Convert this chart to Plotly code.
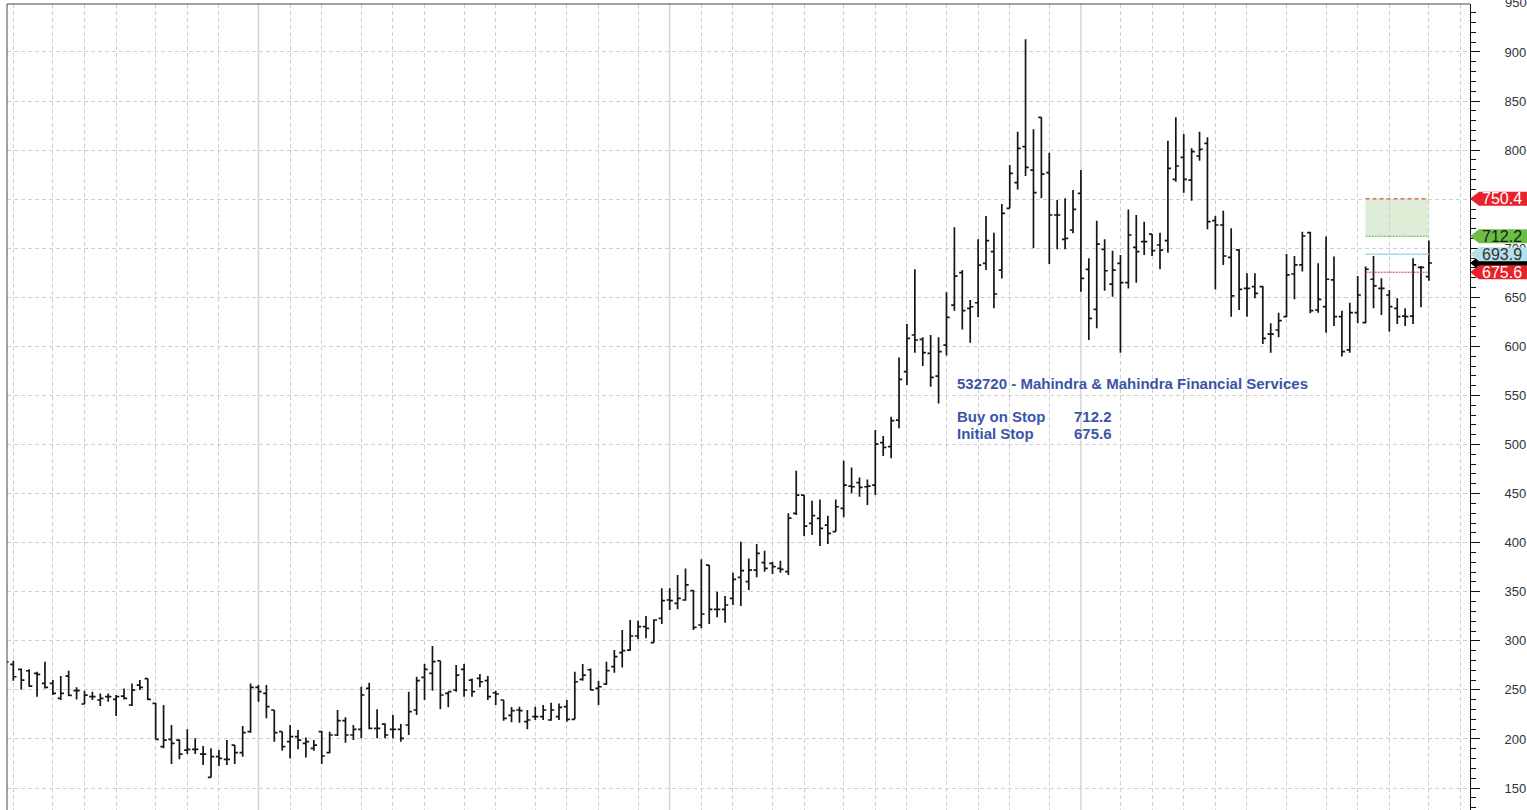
import plotly.graph_objects as go

# ---------------- data (weekly OHLC) ----------------
opens = [280, 276, 270.9, 269.5, 266.8, 256.6, 256.6, 241.4, 264.1, 249.2,
         235.6, 243.1, 239.7, 243.1, 240.3, 243.7, 234.6, 254.9, 261.4, 236.3,
         192.1, 199.6, 198.9, 188.7, 189.4, 184.6, 160.8, 181.9, 179.2, 193.8,
         186.0, 207.4, 252.6, 246.5, 229.5, 207.4, 197.2, 202.3, 195.5, 190.4,
         207.4, 186.0, 204.0, 218.6, 204.0, 209.8, 251.6, 210.8, 215.2, 209.8,
         209.8, 214.2, 229.5, 262.8, 266.8, 279.7, 246.5, 249.9, 270.9, 260.0,
         261.7, 259.4, 247.1, 239.7, 224.0, 229.5, 217.6, 222.7, 222.7, 219.3,
         222.7, 232.9, 220.0, 260.7, 270.5, 251.6, 256.0, 273.6, 287.9, 290.6,
         304.9, 314.4, 298.1, 322.9, 341.6, 338.2, 341.6, 351.1, 316.1, 377.2,
         332.1, 332.1, 343.3, 364.7, 360.3, 372.1, 379.6, 378.9, 373.8, 370.4,
         429.8, 448.5, 419.6, 424.7, 417.9, 411.2, 434.9, 457.7, 461.1, 457.0,
         458.7, 501.9, 497.8, 524.9, 574.2, 611.6, 607.2, 592.9, 569.8, 601.4,
         642.1, 675.1, 638.8, 644.5, 684.6, 696.5, 677.8, 740.7, 766.8, 803.5,
         779.7, 833.4, 777.0, 733.9, 709.1, 718.6, 755.9, 678.5, 637.7, 698.9,
         663.5, 684.6, 664.9, 700.9, 706.7, 714.5, 703.3, 707.7, 770.2, 792.6,
         769.5, 794.0, 806.9, 728.1, 723.7, 690.8, 698.3, 659.2, 660.9, 660.9,
         612.6, 616.7, 630.3, 673.8, 683.0, 715.9, 637.1, 640.5, 667.7, 630.3,
         596.4, 634.4, 624.2, 668.4, 659.2, 652.4, 638.8, 630.9, 630.9, 680.6,
         671.1]
highs = [282, 279.7, 271.9, 270.9, 268.5, 278.7, 260.0, 264.1, 269.5, 252.6,
         249.2, 248.1, 246.4, 246.4, 244.7, 251.5, 256.6, 260.0, 261.7, 236.9,
         234.6, 214.2, 199.6, 209.8, 200.6, 192.8, 190.4, 188.7, 198.9, 193.8,
         213.2, 256.6, 254.9, 254.9, 229.5, 207.4, 214.2, 209.1, 201.6, 198.9,
         208.4, 207.4, 229.5, 222.0, 214.2, 253.3, 257.3, 230.2, 215.9, 224.4,
         215.2, 248.2, 263.4, 276.4, 294.7, 279.7, 248.2, 275.3, 276.4, 261.7,
         266.2, 264.1, 249.2, 239.7, 232.5, 232.9, 229.5, 232.9, 234.6, 236.9,
         236.2, 239.6, 268.5, 276.3, 271.9, 259.4, 278.7, 290.6, 311.0, 321.2,
         320.5, 325.3, 321.9, 353.5, 353.5, 367.1, 373.8, 351.8, 383.0, 377.2,
         350.1, 345.6, 369.4, 401.0, 384.0, 398.6, 391.8, 380.6, 381.7, 429.9,
         473.3, 448.5, 442.7, 444.1, 427.5, 444.1, 483.5, 476.7, 466.5, 464.5,
         514.8, 508.7, 528.3, 588.8, 622.8, 678.5, 609.2, 611.6, 609.2, 655.2,
         721.3, 677.8, 647.2, 709.1, 732.9, 715.9, 745.1, 784.8, 818.8, 912.9,
         821.2, 833.4, 797.4, 749.2, 750.9, 759.3, 779.7, 689.7, 728.1, 709.1,
         697.5, 693.1, 739.6, 733.9, 727.1, 714.5, 715.9, 809.6, 833.4, 816.4,
         801.8, 818.8, 813.0, 732.9, 738.3, 720.3, 698.9, 674.5, 674.5, 661.6,
         623.5, 634.4, 694.2, 692.1, 716.9, 716.9, 684.7, 711.9, 691.5, 636.4,
         644.6, 671.8, 681.3, 692.1, 669.4, 657.5, 649.0, 638.8, 689.8, 682.0,
         707.8]
lows = [270, 259.4, 250.5, 253.2, 243.1, 251.5, 244.7, 239.7, 243.7, 240.3,
        235.6, 239.7, 233.5, 238.0, 223.3, 240.3, 233.5, 249.8, 239.7, 199.6,
        190.4, 174.4, 179.2, 184.6, 184.6, 173.4, 160.8, 172.4, 173.4, 174.4,
        181.9, 206.4, 238.0, 221.0, 197.2, 188.0, 180.2, 189.4, 181.2, 188.0,
        174.4, 185.3, 203.0, 196.2, 198.9, 200.6, 209.8, 200.6, 200.6, 200.6,
        197.2, 204.0, 224.4, 239.7, 249.2, 230.2, 232.2, 248.2, 243.1, 243.1,
        252.6, 239.7, 234.6, 218.6, 217.0, 216.5, 209.8, 219.3, 219.3, 218.6,
        219.3, 217.6, 220.0, 259.3, 249.5, 234.6, 255.0, 267.5, 272.9, 289.9,
        301.5, 302.5, 298.1, 317.1, 331.4, 332.1, 340.9, 311.0, 312.7, 317.1,
        323.9, 318.5, 336.5, 335.4, 351.8, 364.7, 370.4, 368.1, 369.4, 367.0,
        428.1, 406.7, 407.8, 396.6, 398.6, 411.2, 425.8, 450.2, 446.8, 438.3,
        448.5, 488.3, 485.9, 516.5, 560.6, 593.6, 580.0, 558.9, 541.9, 590.7,
        636.4, 617.3, 603.8, 629.6, 677.8, 638.8, 669.3, 740.7, 760.0, 773.6,
        699.9, 750.9, 683.9, 698.9, 698.9, 715.2, 655.7, 606.5, 618.4, 656.8,
        650.6, 593.6, 659.1, 664.9, 693.1, 692.1, 678.5, 695.5, 767.8, 756.6,
        748.5, 789.2, 719.3, 658.1, 683.0, 630.3, 637.1, 630.3, 649.0, 602.5,
        593.6, 609.3, 629.6, 648.0, 676.2, 633.7, 634.4, 614.0, 620.8, 589.6,
        593.6, 623.5, 623.5, 638.8, 632.0, 615.0, 622.8, 620.8, 622.8, 639.8,
        667.0]
closes = [278.4, 263.4, 260.0, 253.9, 265.8, 252.6, 246.4, 246.4, 244.4, 249.2,
          244.7, 243.1, 241.4, 243.1, 243.1, 241.4, 249.8, 252.6, 240.3, 199.6,
          198.9, 195.5, 184.6, 189.4, 189.4, 184.6, 181.9, 180.2, 179.2, 186.0,
          206.4, 252.6, 248.2, 232.9, 206.4, 192.1, 202.3, 198.9, 197.2, 193.8,
          182.6, 204.0, 218.6, 204.0, 209.8, 244.8, 210.8, 210.8, 204.0, 209.8,
          200.6, 227.8, 259.4, 270.9, 278.7, 244.8, 248.2, 265.1, 249.9, 248.2,
          258.3, 243.1, 245.8, 221.0, 228.8, 228.8, 219.3, 222.7, 229.5, 229.5,
          232.2, 220.0, 258.3, 265.1, 250.0, 253.2, 269.6, 283.8, 289.9, 304.9,
          314.4, 312.7, 321.2, 340.9, 340.9, 343.3, 356.9, 313.7, 327.3, 332.1,
          332.1, 336.5, 362.6, 371.5, 372.1, 389.1, 373.8, 375.5, 372.8, 425.0,
          448.5, 416.9, 427.5, 414.6, 409.5, 436.6, 458.7, 457.0, 456.3, 457.7,
          500.5, 497.1, 524.3, 566.4, 608.2, 606.5, 593.6, 568.4, 594.6, 629.6,
          671.7, 636.4, 640.4, 682.9, 707.7, 653.4, 735.6, 776.3, 801.8, 782.4,
          756.6, 775.6, 733.9, 733.9, 710.1, 739.6, 669.3, 628.6, 704.3, 677.1,
          677.8, 664.9, 713.5, 696.5, 706.7, 697.5, 698.2, 781.4, 783.8, 770.2,
          798.4, 800.8, 727.1, 723.7, 692.1, 651.4, 658.2, 659.2, 654.1, 608.2,
          612.6, 626.2, 672.8, 683.0, 712.5, 636.4, 648.0, 668.4, 630.3, 594.6,
          634.4, 652.4, 678.6, 661.6, 659.2, 640.5, 630.3, 630.3, 683.0, 680.6,
          685.0]

# month / year separators (bar index)
month_marks = [1, 6, 10, 14, 19, 23, 27, 36, 40, 45, 49, 53, 58, 62, 67, 71, 75,
               80, 88, 92, 97, 101, 106, 110, 114, 119, 123, 127, 132, 141, 145,
               149, 153, 157, 162, 167, 171, 175, 180, 184]
year_marks = [32, 84, 136]

title_text = "532720 - Mahindra & Mahindra Financial Services"
buy_label, buy_stop = "Buy on Stop", 712.2
init_label, init_stop = "Initial Stop", 675.6
target_level = 750.4
mid_level = 693.9
zone_start, zone_end = 172, 180

# ---------------- layout geometry ----------------
W, H = 1527, 810
ML, MR, MT, MB = 7, 57, 4, 0
Y0, Y1 = 127.6, 948.9
X0, X1 = 0.2, 185.2
plot_h = H - MT - MB
plot_w = W - ML - MR

xs = list(range(len(opens)))

fig = go.Figure()
fig.add_trace(go.Ohlc(
    x=xs, open=opens, high=highs, low=lows, close=closes,
    increasing=dict(line=dict(color="#151515", width=1.7)),
    decreasing=dict(line=dict(color="#151515", width=1.7)),
    tickwidth=0.4, hoverinfo="skip", showlegend=False,
))

shapes = []
for m in year_marks:
    shapes.append(dict(type="line", xref="x", yref="paper", x0=m, x1=m, y0=0, y1=1,
                       line=dict(color="#d4d4d4", width=1.5), layer="below"))
shapes.append(dict(type="line", xref="paper", yref="paper", x0=0, x1=0, y0=0, y1=1,
                   line=dict(color="#444444", width=1), layer="above"))
shapes.append(dict(type="line", xref="paper", yref="paper", x0=0, x1=1, y0=1, y1=1,
                   line=dict(color="#444444", width=1), layer="above"))

# target zone
shapes.append(dict(type="rect", xref="x", yref="y", x0=zone_start, x1=zone_end,
                   y0=buy_stop, y1=target_level, fillcolor="rgba(200,225,185,0.6)",
                   line=dict(width=0), layer="below"))
shapes.append(dict(type="line", xref="x", yref="y", x0=zone_start, x1=zone_end,
                   y0=target_level, y1=target_level,
                   line=dict(color="#e03030", width=1, dash="4px,3px")))
shapes.append(dict(type="line", xref="x", yref="y", x0=zone_start, x1=zone_end,
                   y0=buy_stop, y1=buy_stop,
                   line=dict(color="#5fb040", width=1, dash="2px,1px")))
shapes.append(dict(type="line", xref="x", yref="y", x0=zone_start, x1=zone_end,
                   y0=mid_level, y1=mid_level,
                   line=dict(color="#a8d8e6", width=1.5)))
shapes.append(dict(type="line", xref="x", yref="y", x0=zone_start, x1=zone_end,
                   y0=init_stop, y1=init_stop,
                   line=dict(color="#e03030", width=1, dash="2px,1px")))

def py(v):
    return (v - Y0) / (Y1 - Y0)

def px_x(p):
    return (p - ML) / plot_w

tip_x = px_x(1470)
neck_x = px_x(1479)
end_x = px_x(1530)
half = 7.0 / plot_h

annotations = []
tags = [
    (closes[-1], "#000000", None, "#ffffff"),
    (target_level, "#e8212b", "750.4", "#ffffff"),
    (buy_stop, "#6cbd45", "712.2", "#1a1a1a"),
    (mid_level, "#b4e0ea", "693.9", "#333333"),
    (init_stop, "#e8212b", "675.6", "#ffffff"),
]
for val, col, txt, tcol in tags:
    yc = py(val)
    path = (f"M {tip_x} {yc} L {neck_x} {yc + half} L {end_x} {yc + half} "
            f"L {end_x} {yc - half} L {neck_x} {yc - half} Z")
    shapes.append(dict(type="path", xref="paper", yref="paper", path=path,
                       fillcolor=col, line=dict(width=0), layer="above"))
    if txt:
        annotations.append(dict(xref="paper", yref="paper", x=px_x(1480), y=yc,
                                xanchor="left", yanchor="middle", text=txt,
                                showarrow=False,
                                font=dict(family="Liberation Sans, Arial", size=16, color=tcol)))

# top tick label, cut by the page edge
annotations.append(dict(xref="paper", yref="paper", x=px_x(1503), y=py(950), xanchor="left",
                        yanchor="middle", text="950", showarrow=False,
                        font=dict(family="Liberation Sans, Arial", size=13, color="#333333")))

blue = "#3a55a6"
tfont = dict(family="Liberation Sans, Arial", size=15, color=blue)
def txt_ann(xp, yp, s):
    return dict(xref="paper", yref="paper", x=px_x(xp), y=(H - yp) / plot_h,
                xanchor="left", yanchor="middle", showarrow=False,
                text=f"<b>{s}</b>", font=tfont)
annotations.append(txt_ann(955, 383, title_text))
annotations.append(txt_ann(955, 416.5, buy_label))
annotations.append(txt_ann(955, 433.5, init_label))
annotations.append(txt_ann(1072, 416.5, buy_stop))
annotations.append(txt_ann(1072, 433.5, init_stop))

fig.update_layout(
    width=W, height=H,
    margin=dict(l=ML, r=MR, t=MT, b=MB, pad=0),
    paper_bgcolor="white", plot_bgcolor="white",
    showlegend=False,
    shapes=shapes, annotations=annotations,
    xaxis=dict(range=[X0, X1], tickmode="array", tickvals=month_marks,
               showticklabels=False, ticks="", showgrid=True,
               gridcolor="#cfcfcf", gridwidth=1, griddash="4px,3px",
               zeroline=False, showline=False, rangeslider=dict(visible=False),
               fixedrange=True),
    yaxis=dict(range=[Y0, Y1], side="right", dtick=50, tick0=0,
               showgrid=True, gridcolor="#cfcfcf", gridwidth=1, griddash="4px,3px",
               zeroline=False, showline=True, linecolor="#111111", linewidth=1,
               ticks="outside", ticklen=9, tickcolor="#111111", tickwidth=1,
               minor=dict(dtick=10, ticks="outside", ticklen=5, tickcolor="#111111",
                          showgrid=False),
               ticklabelstandoff=22,
               tickfont=dict(family="Liberation Sans, Arial", size=13, color="#333333"),
               fixedrange=True),
)

fig.write_html("out.html", config={"displayModeBar": False},
               post_script="document.body.style.margin='0';document.body.style.overflow='hidden';")
